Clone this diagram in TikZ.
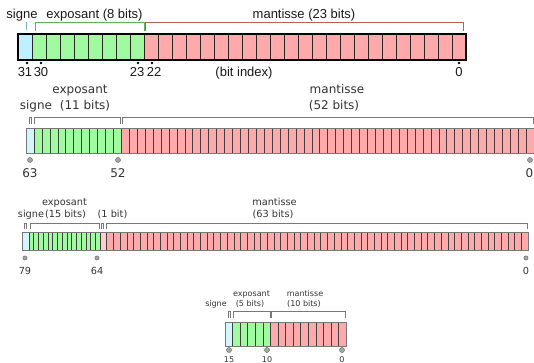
\documentclass[tikz,border=0pt]{standalone}
\usepackage{fontspec}
\newfontfamily\arialfnt{Liberation Sans}
\newfontfamily\dejafnt{DejaVu Sans}
\usetikzlibrary{positioning}
\definecolor{signblue}{RGB}{190,240,255}
\definecolor{expgreen}{RGB}{160,250,160}
\definecolor{mantred}{RGB}{255,170,170}
\definecolor{intred}{RGB}{255,205,205}
\definecolor{tickblue}{RGB}{120,185,200}
\definecolor{brgreen}{RGB}{90,180,90}
\definecolor{brred}{RGB}{185,95,95}
\definecolor{framegray}{RGB}{120,120,120}

\begin{document}
\begin{tikzpicture}[x=1pt, y=-1pt,
    lblA/.style={font=\arialfnt\fontsize{13}{13}\selectfont, text=black!90, inner sep=0pt, anchor=base},
    lblB/.style={font=\dejafnt\fontsize{12}{12}\selectfont, text=black!80, inner sep=0pt, anchor=base},
    lblC/.style={font=\dejafnt\fontsize{9.75}{9.75}\selectfont, text=black!80, inner sep=0pt, anchor=base},
    lblD/.style={font=\dejafnt\fontsize{8}{8}\selectfont, text=black!80, inner sep=0pt, anchor=base},
    cellA/.style={draw=black!85, line width=0.9pt},
    frameA/.style={draw=black, line width=1.5pt},
    cellB/.style={draw=black!75, line width=0.5pt},
    frameB/.style={draw=framegray, line width=0.8pt},
    brace/.style={draw=framegray, line width=0.8pt},
    blackdot/.style={circle, fill=black, inner sep=0pt, minimum size=2.8pt},
    graydot/.style={circle, fill=black!35, draw=framegray, line width=0.6pt, inner sep=0pt, minimum size=5pt}]

    \useasboundingbox (0,0) rectangle (534,363);

    % simple precision (32 bits)
    \fill[signblue] (18,34) rectangle (32,60);
    \fill[expgreen] (32,34) rectangle (144,60);
    \fill[mantred] (144,34) rectangle (466,60);
    \foreach \i in {1,...,31}
        \draw[cellA] ({18+14*\i},34) -- ++(0,26);
    \draw[frameA] (18,34) rectangle (466,60);

    \draw[tickblue, line width=1pt] (26.5,22) -- (26.5,30);
    \draw[brgreen, line width=1pt] (35,31) -- (35,23) -- (144,23) -- (144,31);
    \draw[brred, line width=1pt] (145.5,31) -- (145.5,23) -- (463,23) -- (463,31);

    \node[lblA] (signeA) at (22,19) {signe};
    \node[lblA] (expA) at (94.5,19) {exposant (8 bits)};
    \node[lblA] (mantA) at (304,19) {mantisse (23 bits)};
    \node[lblA] (bitidx) at (244,77) {(bit index)};

    \foreach \b/\x/\t in {31/27/25, 30/41/41, 23/138/137, 22/152/154, 0/459/459} {
        \node[blackdot] (sA\b) at (\x,63) {};
        \node[lblA] (nA\b) at (\t,77) {\b};
    }

    % double precision (64 bits)
    \fill[signblue!70!white] (26,128) rectangle (33.94,153);
    \fill[expgreen] (33.94,128) rectangle (121.25,153);
    \fill[mantred] (121.25,128) rectangle (534,153);
    \foreach \i in {1,...,63}
        \draw[cellB] ({26+7.9375*\i},128) -- ++(0,25);
    \draw[frameB] (26,128) rectangle (534,153);

    \draw[brace] (29,124) -- (29,117) -- (31.5,117) -- (31.5,124);
    \draw[brace] (34.5,124) -- (34.5,117) -- (120.5,117) -- (120.5,124);
    \draw[brace] (122,124) -- (122,117) -- (533,117) -- (533,124);

    \node[lblB] (signeB) at (36,110) {signe};
    \node[lblB] (expB) at (80,94) {exposant};
    \node[lblB] (expBn) at (85,110) {(11 bits)};
    \node[lblB] (mantB) at (337,94) {mantisse};
    \node[lblB] (mantBn) at (334,110) {(52 bits)};

    \foreach \b/\x/\t in {63/30/30, 52/118/118, 0/530/529.5} {
        \node[graydot] (sB\b) at (\x,160) {};
        \node[lblB] (nB\b) at (\t,178) {\b};
    }

    % precision etendue (80 bits)
    \fill[signblue!70!white] (22,232) rectangle (29,250);
    \fill[expgreen] (29,232) rectangle (100,250);
    \fill[intred] (100,232) rectangle (106.69,250);
    \fill[mantred] (106.69,232) rectangle (528,250);
    \foreach \i in {1,...,15}
        \draw[cellB] ({29+4.7333*\i},232) -- ++(0,18);
    \foreach \i in {1,...,63}
        \draw[cellB] ({100+6.6875*\i},232) -- ++(0,18);
    \draw[cellB] (29,232) -- ++(0,18);
    \draw[frameB] (22,232) rectangle (528,250);

    \draw[brace] (24.5,229) -- (24.5,223) -- (26.7,223) -- (26.7,229);
    \draw[brace] (30,229) -- (30,223) -- (99,223) -- (99,229);
    \draw[brace] (101.3,229) -- (101.3,223) -- (103.5,223) -- (103.5,229);
    \draw[brace] (106,229) -- (106,223) -- (527,223) -- (527,229);

    \node[lblC] (signeC) at (31,217) {signe};
    \node[lblC] (expC) at (64.5,205) {exposant};
    \node[lblC] (expCn) at (65.5,217) {(15 bits)};
    \node[lblC] (intC) at (112.5,217) {(1 bit)};
    \node[lblC] (mantC) at (274.5,205) {mantisse};
    \node[lblC] (mantCn) at (273,217) {(63 bits)};

    \foreach \b/\x in {79/25, 64/97, 0/526} {
        \node[graydot, minimum size=4.2pt] (sC\b) at (\x,258) {};
        \node[lblC] (nC\b) at (\x,274) {\b};
    }

    % demi precision (16 bits)
    \fill[signblue!70!white] (225,322) rectangle (232.56,346);
    \fill[expgreen] (232.56,322) rectangle (270.38,346);
    \fill[mantred] (270.38,322) rectangle (346,346);
    \foreach \i in {1,...,15}
        \draw[cellB] ({225+7.5625*\i},322) -- ++(0,24);
    \draw[frameB] (225,322) rectangle (346,346);

    \draw[brace] (228.3,318) -- (228.3,311) -- (230.3,311) -- (230.3,318);
    \draw[brace] (233,318) -- (233,311) -- (270,311) -- (270,318);
    \draw[brace] (271.5,318) -- (271.5,311) -- (345.3,311) -- (345.3,318);

    \node[lblD] (signeD) at (216,306) {signe};
    \node[lblD] (expD) at (251.5,296) {exposant};
    \node[lblD] (expDn) at (250,306) {(5 bits)};
    \node[lblD] (mantD) at (305,296) {mantisse};
    \node[lblD] (mantDn) at (304,306) {(10 bits)};

    \foreach \b/\x in {15/229, 10/267, 0/342} {
        \node[graydot] (sD\b) at (\x,350) {};
        \node[lblD] (nD\b) at (\x,362) {\b};
    }

\end{tikzpicture}
\end{document}
